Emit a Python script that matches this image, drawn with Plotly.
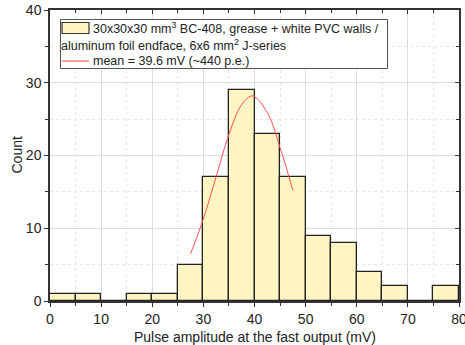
import plotly.graph_objects as go

# Histogram data (bin width 5 mV)
bin_left = [0, 5, 10, 15, 20, 25, 30, 35, 40, 45, 50, 55, 60, 65, 70, 75]
counts = [1, 1, 0, 1, 1, 5, 17, 29, 23, 17, 9, 8, 4, 2, 0, 2]
bin_width = 5

# Gaussian fit curve
fit_x = [27.5, 30, 32.5, 35, 37.5, 39.6, 42.5, 45, 47.5]
fit_y = [6.5, 11.3, 17.1, 22.9, 27.0, 28.2, 25.9, 21.1, 15.2]

x_title = "Pulse amplitude at the fast output (mV)"
y_title = "Count"
legend_line1 = "30x30x30 mm<sup>3</sup> BC-408, grease + white PVC walls /"
legend_line2 = "aluminum foil endface, 6x6 mm<sup>2</sup> J-series"
legend_line3 = "mean = 39.6 mV (~440 p.e.)"

FONT = "Liberation Sans, Arial, sans-serif"
bar_fill = "#FFF5C2"

fig = go.Figure()
fig.add_trace(go.Bar(
    x=[b + bin_width / 2 for b in bin_left], y=counts, width=bin_width,
    marker=dict(color=bar_fill, line=dict(color="#222222", width=1.3)),
    showlegend=False,
))
fig.add_trace(go.Scatter(
    x=fit_x, y=fit_y, mode="lines", line=dict(color="#FF5050", width=1, shape="spline"),
    showlegend=False,
))
# Dummy trace to activate top/right axes
fig.add_trace(go.Scatter(x=[None], y=[None], xaxis="x2", yaxis="y2", showlegend=False))

grid_major = "#DCDCDC"
grid_minor = "#E6E6E6"
axcol = "#333333"

fig.update_layout(
    width=465, height=345,
    margin=dict(l=50, r=6, t=10, b=44),
    paper_bgcolor="white", plot_bgcolor="white",
    font=dict(family=FONT, size=14, color="#222222"),
    bargap=0,
    xaxis=dict(
        range=[0, 80], dtick=10, tick0=0, automargin=False, ticklabeloverflow="allow",
        showgrid=True, gridcolor=grid_major, gridwidth=1,
        minor=dict(dtick=5, showgrid=True, gridcolor=grid_minor, griddash="dot",
                   ticks="outside", ticklen=3, tickcolor=axcol),
        ticks="outside", ticklen=4, tickcolor=axcol, tickwidth=1,
        showline=True, linecolor=axcol, linewidth=1.5,
        zeroline=False, tickfont=dict(size=14),
    ),
    yaxis=dict(
        range=[0, 40], dtick=10, tick0=0, automargin=False, ticklabeloverflow="allow",
        showgrid=True, gridcolor=grid_major, gridwidth=1,
        minor=dict(dtick=5, showgrid=True, gridcolor=grid_minor, griddash="dot",
                   ticks="outside", ticklen=3, tickcolor=axcol),
        ticks="outside", ticklen=4, tickcolor=axcol, tickwidth=1,
        showline=True, linecolor=axcol, linewidth=1.5,
        zeroline=False, tickfont=dict(size=14),
    ),
    xaxis2=dict(
        overlaying="x", side="top", range=[0, 80], dtick=10, tick0=0, automargin=False,
        showgrid=False, showticklabels=False, zeroline=False,
        ticks="inside", ticklen=4, tickcolor=axcol,
        minor=dict(dtick=5, ticks="inside", ticklen=3, tickcolor=axcol),
        showline=True, linecolor=axcol, linewidth=1.5,
    ),
    yaxis2=dict(
        overlaying="y", side="right", range=[0, 40], dtick=10, tick0=0, automargin=False,
        showgrid=False, showticklabels=False, zeroline=False,
        ticks="inside", ticklen=4, tickcolor=axcol,
        minor=dict(dtick=5, ticks="inside", ticklen=3, tickcolor=axcol),
        showline=True, linecolor=axcol, linewidth=1.5,
    ),
)

W, H = 465, 345
L, R, T, B = 50, 6, 10, 44
pw, ph = W - L - R, H - T - B
def px(x): return (x - L) / pw
def py(y): return 1 - (y - T) / ph

# Axis titles as annotations for exact placement
fig.add_annotation(xref="paper", yref="paper", x=px(255), y=py(337), text=x_title,
                   showarrow=False, xanchor="center", yanchor="middle",
                   font=dict(family=FONT, size=14, color="#222222"))
fig.add_annotation(xref="paper", yref="paper", x=px(16), y=py(155.5), text=y_title,
                   showarrow=False, xanchor="center", yanchor="middle", textangle=-90,
                   font=dict(family=FONT, size=14, color="#222222"))

# Manual legend box
fig.add_shape(type="rect", xref="paper", yref="paper",
              x0=px(60.5), x1=px(387.5), y0=py(68.5), y1=py(19.5),
              line=dict(color="#555555", width=1), fillcolor="white", layer="above")
fig.add_shape(type="rect", xref="paper", yref="paper",
              x0=px(62), x1=px(89), y0=py(33.5), y1=py(22.5),
              line=dict(color=axcol, width=1.2), fillcolor=bar_fill, layer="above")
fig.add_shape(type="line", xref="paper", yref="paper",
              x0=px(62), x1=px(89), y0=py(61), y1=py(61),
              line=dict(color="#FF8080", width=1.5), layer="above")
ann_font = dict(family=FONT, size=12.5, color="#222222")
fig.add_annotation(xref="paper", yref="paper", x=px(92), y=py(28), text=legend_line1,
                   showarrow=False, xanchor="left", yanchor="middle", font=ann_font,
                   borderpad=0)
fig.add_annotation(xref="paper", yref="paper", x=px(60), y=py(45), text=legend_line2,
                   showarrow=False, xanchor="left", yanchor="middle", font=ann_font,
                   borderpad=0)
fig.add_annotation(xref="paper", yref="paper", x=px(92), y=py(61), text=legend_line3,
                   showarrow=False, xanchor="left", yanchor="middle", font=ann_font,
                   borderpad=0)

fig.write_html("out.html")
